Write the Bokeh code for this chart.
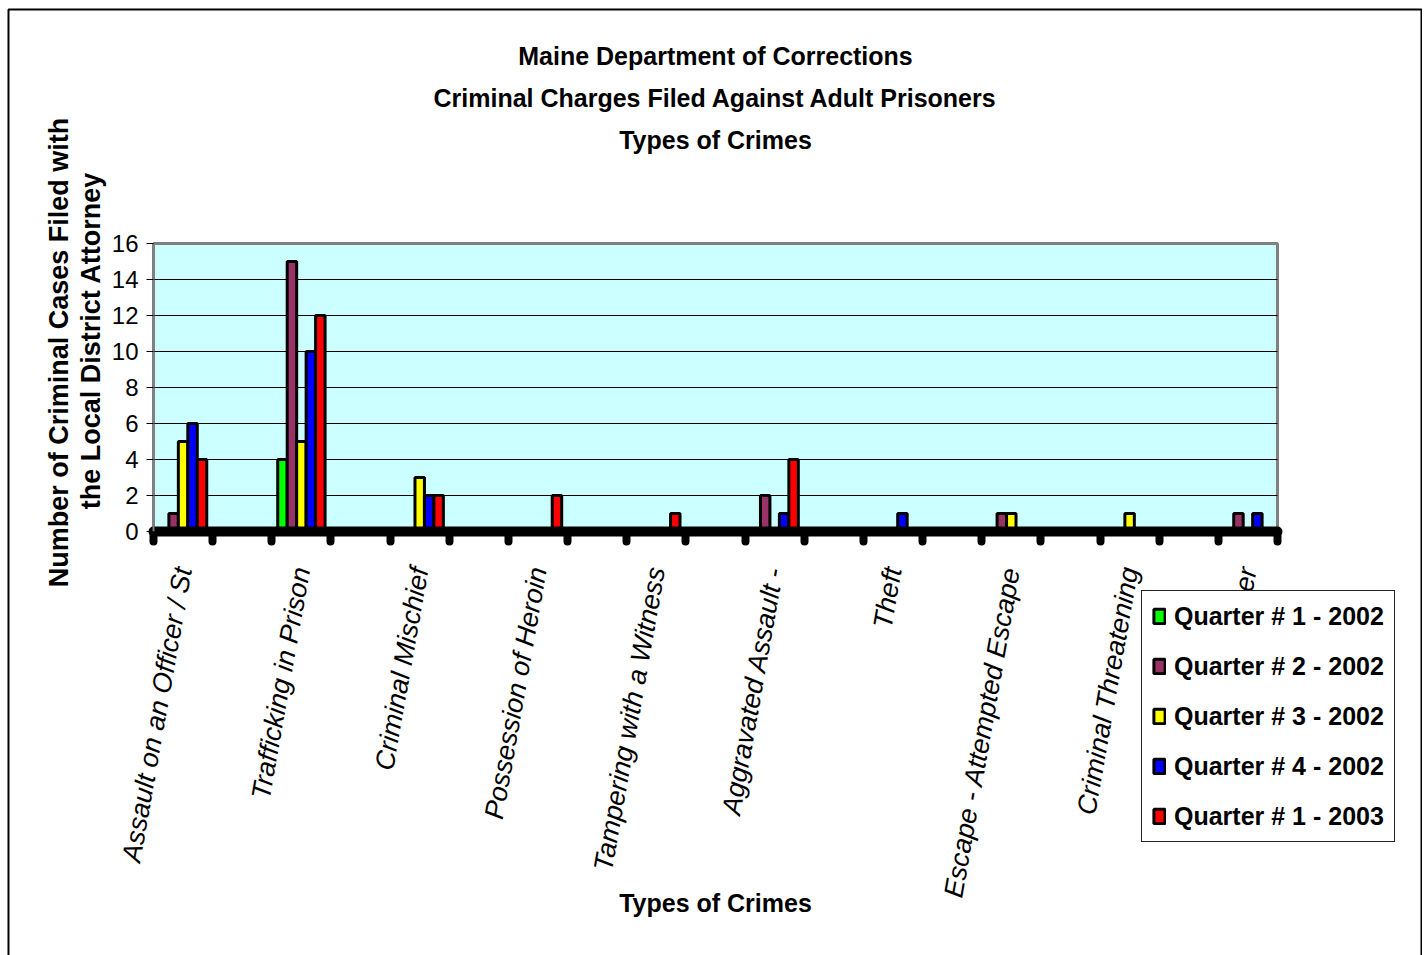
import math
import numpy as np
from bokeh.plotting import figure
from bokeh.models import Range1d, FixedTicker, Label, Legend, LegendItem, BoxAnnotation
from bokeh.embed import file_html
from bokeh.resources import INLINE

# ---------------- data ----------------
categories = [
    "Assault on an Officer / St",
    "Trafficking in Prison",
    "Criminal Mischief",
    "Possession of Heroin",
    "Tampering with a Witness",
    "Aggravated Assault -",
    "Theft",
    "Escape - Attempted Escape",
    "Criminal Threatening",
    "Other",
]
series_names = [
    "Quarter # 1 - 2002",
    "Quarter # 2 - 2002",
    "Quarter # 3 - 2002",
    "Quarter # 4 - 2002",
    "Quarter # 1 - 2003",
]
q1_2002 = [0, 4, 0, 0, 0, 0, 0, 0, 0, 0]
q2_2002 = [1, 15, 0, 0, 0, 2, 0, 1, 0, 1]
q3_2002 = [5, 5, 3, 0, 0, 0, 0, 1, 1, 0]
q4_2002 = [6, 10, 2, 0, 0, 1, 1, 0, 0, 1]
q1_2003 = [4, 12, 2, 2, 1, 4, 0, 0, 0, 0]
y_ticks = [0, 2, 4, 6, 8, 10, 12, 14, 16]
title_lines = [
    "Maine Department of Corrections",
    "Criminal Charges Filed Against Adult Prisoners",
    "Types of Crimes",
]
x_title = "Types of Crimes"
y_title_lines = ["Number of Criminal Cases Filed with", "the Local District Attorney"]

# ---------------- layout / styling ----------------
FONT = "Liberation Sans"
colors = ["#00FF00", "#993366", "#FFFF00", "#0000FF", "#FF0000"]
W, H = 1422, 955                      # whole canvas (= frame)
PL, PR, PT, PB = 153, 1277, 243, 531  # plot area inside the canvas, px
n = len(categories)
x0, x1 = -0.25, n - 0.75              # category axis extent
y0, y1 = y_ticks[0], y_ticks[-1]
kx = (PR - PL) / (x1 - x0)
ky = (PB - PT) / (y1 - y0)

p = figure(
    width=W, height=H,
    x_range=Range1d(x0 - PL / kx, x1 + (W - PR) / kx),
    y_range=Range1d(y0 - (H - PB) / ky, y1 + PT / ky),
    output_backend="svg", toolbar_location=None,
    min_border=0,
)
p.title.visible = False
p.background_fill_color = "white"
p.border_fill_color = "white"
p.outline_line_color = None
p.xgrid.visible = False
p.ygrid.visible = False

# chart-area border
p.add_layout(BoxAnnotation(left=8, right=1421, bottom=-10, top=H - 9,
                           left_units="screen", right_units="screen",
                           bottom_units="screen", top_units="screen",
                           fill_alpha=0, line_color="black", line_alpha=1,
                           line_width=2, level="overlay"))

# plot area background + border
p.add_layout(BoxAnnotation(left=x0, right=x1, bottom=y0, top=y1,
                           fill_color="#CCFFFF", fill_alpha=1,
                           line_color="#808080", line_alpha=1,
                           line_width=3, level="underlay"))

# horizontal grid lines
grid_ticks = [t for t in y_ticks if y0 < t < y1]
p.segment(x0=[x0] * len(grid_ticks), x1=[x1] * len(grid_ticks),
          y0=grid_ticks, y1=grid_ticks, line_color="black", line_width=1)

# bars
series = [q1_2002, q2_2002, q3_2002, q4_2002, q1_2003]
bar_w = 0.08
xs = np.arange(n)
items = []
for j, (vals, name, c) in enumerate(zip(series, series_names, colors)):
    r = p.vbar(x=xs + (j - 2) * bar_w, top=vals, width=bar_w, bottom=0,
               fill_color=c, line_color="black", line_width=3)
    items.append(LegendItem(label=name, renderers=[r]))

# x axis (drawn at y = 0)
xa = p.xaxis[0]
xa.fixed_location = y0
xa.bounds = (x0, x1)
xa.ticker = FixedTicker(ticks=list(range(n)),
                        minor_ticks=[x0 + 0.5 * k for k in range(2 * n)])
xa.major_label_overrides = {i: c for i, c in enumerate(categories)}
xa.major_label_orientation = math.radians(80)
xa.axis_line_color = "black"
xa.axis_line_width = 10
xa.axis_line_cap = "round"
xa.major_tick_line_color = None
xa.major_tick_in = 0
xa.major_tick_out = 0
xa.minor_tick_line_color = "black"
xa.minor_tick_line_width = 8
xa.minor_tick_line_cap = "round"
xa.minor_tick_in = 0
xa.minor_tick_out = 10
xa.major_label_text_font = FONT
xa.major_label_text_font_size = "27px"
xa.major_label_text_font_style = "italic"
xa.major_label_text_color = "black"
xa.major_label_standoff = 26

# y axis (drawn at left edge of plot area)
ya = p.yaxis[0]
ya.fixed_location = x0
ya.bounds = (y0, y1)
ya.ticker = FixedTicker(ticks=y_ticks, minor_ticks=[])
ya.axis_line_color = "#808080"
ya.axis_line_width = 2
ya.major_tick_line_color = "black"
ya.major_tick_in = 0
ya.major_tick_out = 7
ya.minor_tick_line_color = None
ya.major_label_text_font = FONT
ya.major_label_text_font_size = "24px"
ya.major_label_text_color = "black"
ya.major_label_standoff = 8

# texts (screen units, origin at bottom-left of the canvas)
def lab(x, y, t, size, angle=0.0):
    p.add_layout(Label(x=x, y=y, x_units="screen", y_units="screen", angle=angle,
                       text=t, text_align="center", text_baseline="middle",
                       text_font=FONT, text_font_size=size, text_font_style="bold",
                       text_color="black"))

cx = (PL + PR) / 2
for k, t in enumerate(title_lines):
    lab(cx, H - 55 - 42 * k, t, "25px")
lab(cx, H - 902, x_title, "25px")
lab(58, H - 352, y_title_lines[0], "27px", math.pi / 2)
lab(90, H - 340, y_title_lines[1], "27px", math.pi / 2)

legend = Legend(items=items, location=(1141, H - 842))
legend.label_text_font = FONT
legend.label_text_font_size = "25px"
legend.label_text_font_style = "bold"
legend.label_text_color = "black"
legend.glyph_width = 14
legend.glyph_height = 18
legend.label_height = 30
legend.spacing = 20
legend.padding = 10
legend.margin = 0
legend.label_standoff = 8
legend.border_line_color = "#222222"
legend.border_line_alpha = 1
legend.border_line_width = 1.5
legend.background_fill_color = "white"
legend.background_fill_alpha = 1
p.add_layout(legend)

open("out.html", "w").write(file_html(p, INLINE))
